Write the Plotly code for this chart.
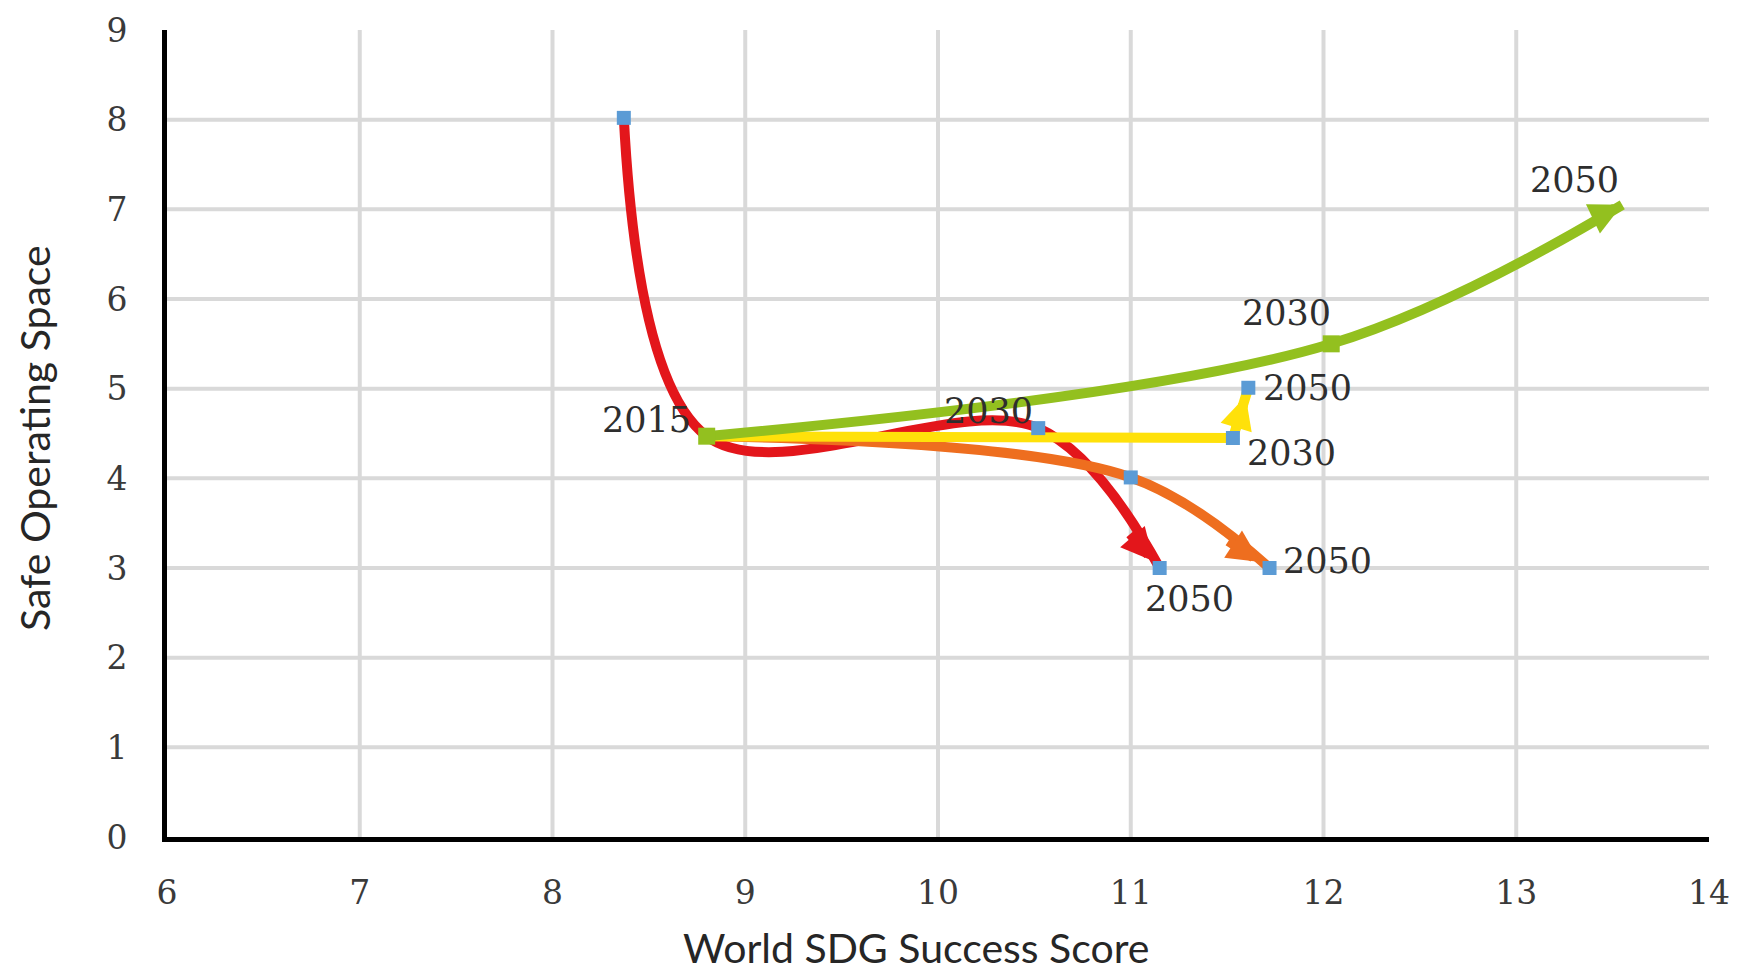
import math
import plotly.graph_objects as go

# ---------------- data ----------------
x_ticks = [6, 7, 8, 9, 10, 11, 12, 13, 14]
y_ticks = [0, 1, 2, 3, 4, 5, 6, 7, 8, 9]

red_x = [8.37, 8.80, 10.52, 11.15]
red_y = [8.02, 4.47, 4.56, 3.00]
red_labels = ["", "2015", "2030", "2050"]

orange_x = [8.80, 11.00, 11.72]
orange_y = [4.47, 4.01, 3.00]
orange_labels = ["", "", "2050"]

yellow_x = [8.80, 11.53, 11.61]
yellow_y = [4.47, 4.45, 5.01]
yellow_labels = ["", "2030", "2050"]

green_x = [8.80, 12.04, 13.55]
green_y = [4.47, 5.50, 7.05]
green_labels = ["", "2030", "2050"]

x_title = "World SDG Success Score"
y_title = "Safe Operating Space"

# ---------------- styles ----------------
RED = "#e3161b"
ORANGE = "#ee6e1f"
YELLOW = "#ffe10a"
GREEN = "#93c01f"
BLUE = "#5b9bd5"
GRID = "#d9d9d9"
LW = 10

W, H = 1746, 970
M = dict(l=159, r=45, t=22, b=141)
PLOT_W = W - M["l"] - M["r"]
PLOT_H = H - M["t"] - M["b"]

# label offsets in pixels (dx right, dy down) per series point
red_off = [None, (-60, -16), (-50, -17), (30, 31)]
orange_off = [None, None, (58, -7)]
yellow_off = [None, (59, 15), (59, 0)]
green_off = [None, (-45, -31), (-48, -25)]

series = [
    dict(x=red_x, y=red_y, lab=red_labels, off=red_off, color=RED, shape="spline", standoff=9, tail=38),
    dict(x=orange_x, y=orange_y, lab=orange_labels, off=orange_off, color=ORANGE, shape="spline", standoff=11, tail=40),
    dict(x=yellow_x, y=yellow_y, lab=yellow_labels, off=yellow_off, color=YELLOW, shape="linear", standoff=9, tail=35),
    dict(x=green_x, y=green_y, lab=green_labels, off=green_off, color=GREEN, shape="spline", standoff=0, tail=30),
]

fig = go.Figure()

for s in series:
    fig.add_trace(go.Scatter(
        x=s["x"], y=s["y"], mode="lines",
        line=dict(color=s["color"], width=LW, shape=s["shape"], smoothing=1.0),
        hoverinfo="skip", showlegend=False,
    ))

# green markers (green series draws its own points)
fig.add_trace(go.Scatter(
    x=green_x[:2], y=green_y[:2], mode="markers",
    marker=dict(color=GREEN, size=17, symbol="square"),
    hoverinfo="skip", showlegend=False,
))

# blue data points
bx = [red_x[0], red_x[2], red_x[3], orange_x[1], orange_x[2], yellow_x[1], yellow_x[2]]
by = [red_y[0], red_y[2], red_y[3], orange_y[1], orange_y[2], yellow_y[1], yellow_y[2]]
fig.add_trace(go.Scatter(
    x=bx, y=by, mode="markers",
    marker=dict(color=BLUE, size=14, symbol="square"),
    hoverinfo="skip", showlegend=False,
))

# arrowheads at ends (direction from last segment, converted to pixels)
px_x = PLOT_W / (x_ticks[-1] - x_ticks[0])
px_y = PLOT_H / (y_ticks[-1] - y_ticks[0])
for s in series:
    x1, y1 = s["x"][-1], s["y"][-1]
    x0, y0 = s["x"][-2], s["y"][-2]
    dx = (x1 - x0) * px_x
    dy = -(y1 - y0) * px_y
    n = math.hypot(dx, dy)
    L = s["tail"] + s["standoff"]
    fig.add_annotation(
        x=x1, y=y1, ax=-dx / n * L, ay=-dy / n * L,
        xref="x", yref="y",
        text="", showarrow=True, arrowhead=2, arrowsize=0.65,
        arrowwidth=LW, arrowcolor=s["color"], standoff=s["standoff"],
    )

# data labels
LABEL_FONT = dict(family="DejaVu Serif", size=35, color="#2e2e2e")
for s in series:
    for xv, yv, t, o in zip(s["x"], s["y"], s["lab"], s["off"]):
        if not t or o is None:
            continue
        fig.add_annotation(
            x=xv, y=yv, xref="x", yref="y", text=t, showarrow=False,
            xanchor="center", yanchor="middle",
            xshift=o[0], yshift=-o[1], font=LABEL_FONT,
        )

# gridlines (no grid at the far edges)
for xv in x_ticks[1:-1]:
    fig.add_shape(type="line", xref="x", yref="y", x0=xv, x1=xv,
                  y0=y_ticks[0], y1=y_ticks[-1],
                  line=dict(color=GRID, width=4), layer="below")
for yv in y_ticks[1:-1]:
    fig.add_shape(type="line", xref="x", yref="y", x0=x_ticks[0], x1=x_ticks[-1],
                  y0=yv, y1=yv,
                  line=dict(color=GRID, width=4), layer="below")

TITLE_FONT = dict(family="Lato", size=41, color="#262626")
fig.add_annotation(xref="paper", yref="paper", x=0.486, y=-0.137,
                   text=x_title, showarrow=False, xanchor="center", yanchor="middle",
                   font=TITLE_FONT)
fig.add_annotation(xref="paper", yref="paper", x=-0.086, y=0.495,
                   text=y_title, showarrow=False, xanchor="center", yanchor="middle",
                   textangle=-90, font=TITLE_FONT)

TICK_FONT = dict(family="DejaVu Serif", size=33, color="#3a3a3a")
fig.update_xaxes(range=[x_ticks[0], x_ticks[-1]], tickvals=x_ticks,
                 showgrid=False, zeroline=False, showline=True, automargin=False,
                 linecolor="black", linewidth=5, ticks="", ticklabeloverflow="allow",
                 ticklabelstandoff=22, tickfont=TICK_FONT)
fig.update_yaxes(range=[y_ticks[0], y_ticks[-1]], tickvals=y_ticks,
                 showgrid=False, zeroline=False, showline=True, automargin=False,
                 linecolor="black", linewidth=5, ticks="", ticklabeloverflow="allow",
                 ticklabelstandoff=28, tickfont=TICK_FONT)

fig.update_layout(
    width=W, height=H,
    margin=dict(l=M["l"], r=M["r"], t=M["t"], b=M["b"], autoexpand=False),
    plot_bgcolor="white", paper_bgcolor="white",
    showlegend=False,
)

fig.write_html("out.html")
